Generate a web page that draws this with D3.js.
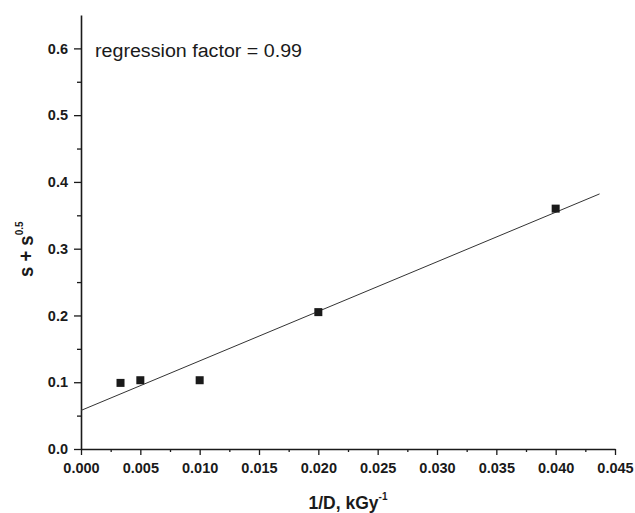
<!DOCTYPE html>
<html>
<head>
<meta charset="utf-8">
<script src="https://cdn.jsdelivr.net/npm/d3@7/dist/d3.min.js"></script>
<style>
  html, body { margin: 0; padding: 0; background: #fff; }
  svg { display: block; }
  text { font-family: "Liberation Sans", Arial, Helvetica, sans-serif; fill: #1a1a1a; }
</style>
</head>
<body>
<svg id="chart" width="635" height="513"></svg>
<script>
// ---- data ----
const invDose = [0.00333, 0.005, 0.010, 0.020, 0.040];
const sValues = [0.099, 0.103, 0.103, 0.205, 0.360];
const xTicks = [0, 0.005, 0.010, 0.015, 0.020, 0.025, 0.030, 0.035, 0.040, 0.045];
const yTicks = [0.0, 0.1, 0.2, 0.3, 0.4, 0.5, 0.6];
const fitRange = [0, 0.0437];
const annotation = "regression factor = 0.99";

// ---- layout ----
const svg = d3.select("#chart");
const mLeft = 81, mRight = 615, mTop = 15, mBottom = 449;
const x = d3.scaleLinear().domain([0, 0.045]).range([mLeft, mRight]);
const y = d3.scaleLinear().domain([0, 0.65]).range([mBottom, mTop]);

// least-squares fit
const mx = d3.mean(invDose), my = d3.mean(sValues);
let sxy = 0, sxx = 0;
invDose.forEach((v, i) => { sxy += (v - mx) * (sValues[i] - my); sxx += (v - mx) * (v - mx); });
const slope = sxy / sxx, intercept = my - slope * mx;

// minor ticks
const xMinor = d3.range(0.0025, 0.045, 0.005);
const yMinor = d3.range(0.05, 0.65, 0.1);

const axisColor = "#1a1a1a";

// X axis
const gx = svg.append("g").attr("transform", `translate(0,${mBottom})`);
gx.call(d3.axisBottom(x).tickValues(xTicks).tickFormat(d3.format(".3f")).tickSize(6).tickSizeOuter(0));
gx.append("g").call(d3.axisBottom(x).tickValues(xMinor).tickFormat("").tickSize(3).tickSizeOuter(0))
  .select(".domain").remove();
gx.selectAll("path.domain").attr("stroke", axisColor).attr("stroke-width", 1.6);
gx.selectAll(".tick line").attr("stroke", axisColor).attr("stroke-width", 1.3);
gx.selectAll(".tick text").attr("font-size", 14.5).attr("font-weight", "bold")
  .attr("font-family", "Liberation Sans, Arial, sans-serif").attr("fill", "#1a1a1a").attr("dy", "1.0em");

// Y axis
const gy = svg.append("g").attr("transform", `translate(${mLeft},0)`);
gy.call(d3.axisLeft(y).tickValues(yTicks).tickFormat(d3.format(".1f")).tickSize(7).tickSizeOuter(0));
gy.append("g").call(d3.axisLeft(y).tickValues(yMinor).tickFormat("").tickSize(4).tickSizeOuter(0))
  .select(".domain").remove();
gy.selectAll("path.domain").attr("stroke", axisColor).attr("stroke-width", 1.6);
gy.selectAll(".tick line").attr("stroke", axisColor).attr("stroke-width", 1.3);
gy.selectAll(".tick text").attr("font-size", 14.5).attr("font-weight", "bold")
  .attr("font-family", "Liberation Sans, Arial, sans-serif").attr("fill", "#1a1a1a").attr("x", -13);

// fit line
svg.append("line")
  .attr("x1", x(fitRange[0])).attr("y1", y(intercept + slope * fitRange[0]))
  .attr("x2", x(fitRange[1])).attr("y2", y(intercept + slope * fitRange[1]))
  .attr("stroke", "#333").attr("stroke-width", 1);

// points
const sz = 8;
svg.append("g").selectAll("rect").data(invDose).join("rect")
  .attr("x", (d) => x(d) - sz / 2)
  .attr("y", (d, i) => y(sValues[i]) - sz / 2)
  .attr("width", sz).attr("height", sz)
  .attr("fill", "#1a1a1a");

// annotation
svg.append("text").attr("x", 95).attr("y", 57)
  .attr("font-size", 18).attr("textLength", 207).attr("lengthAdjust", "spacingAndGlyphs")
  .text(annotation);

// x title
const xt = svg.append("text").attr("x", (mLeft + mRight) / 2).attr("y", 508.5)
  .attr("text-anchor", "middle").attr("font-size", 17.5).attr("font-weight", "bold");
xt.append("tspan").text("1/D, kGy");
xt.append("tspan").attr("font-size", 10).attr("dy", -9).text("-1");

// y title
const yt = svg.append("text").attr("transform", "translate(32.5,277) rotate(-90) scale(1,1.12)")
  .attr("font-size", 18.5).attr("font-weight", "bold");
yt.append("tspan").text("s + s");
yt.append("tspan").attr("font-size", 10).attr("dy", -8.5).text("0.5");
</script>
</body>
</html>
